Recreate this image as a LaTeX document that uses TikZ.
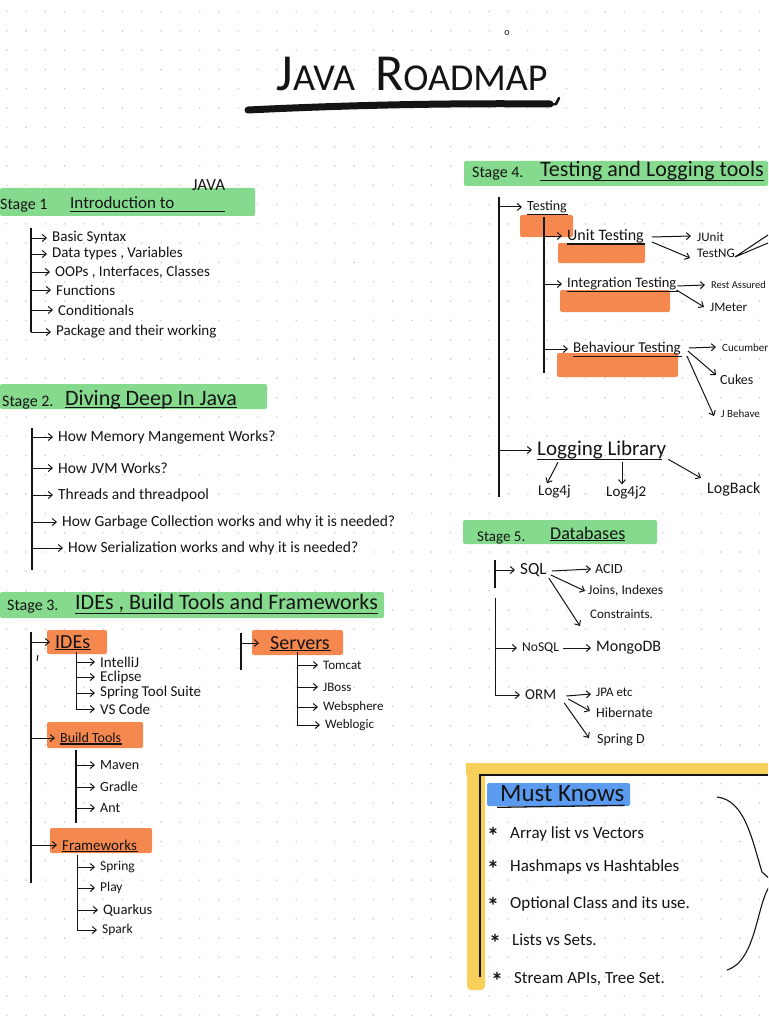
\documentclass[tikz,border=0pt]{standalone}
\usepackage{fontspec}
\setmainfont{Carlito}
\usetikzlibrary{arrows.meta,calc}
\definecolor{hlgreen}{HTML}{86DA8E}
\definecolor{hlorange}{HTML}{F5884F}
\definecolor{hlblue}{HTML}{5B9BF0}
\definecolor{hlyellow}{HTML}{F6D05A}
\definecolor{gridc}{HTML}{D0D0D0}
\definecolor{ink}{HTML}{141414}
\newcommand\fs[1]{\fontsize{#1}{#1}\selectfont}
\newcommand\mkstar{\raisebox{-6pt}{\fs{24}\bfseries *}\hspace{11pt}}
\tikzset{
  txt/.style={anchor=west, inner sep=0pt, text=ink, font=\fs{13}},
  arr/.style={draw=ink, line width=1pt, -{Straight Barb[length=4pt,width=7pt]}},
  toit/.style={arr, shorten >=5pt},
  spine/.style={draw=ink, line width=1.2pt},
  ul/.style={draw=ink, line width=1.3pt},
  hlg/.style={fill=hlgreen, draw=none, rounded corners=2pt},
  hlo/.style={fill=hlorange, draw=none, rounded corners=2pt},
}
\begin{document}
\begin{tikzpicture}[x=1pt,y=-1pt]
\path[use as bounding box, clip] (0,0) rectangle (768,1024);
\fill[white] (0,0) rectangle (768,1024);
\foreach \i in {0,...,39}{\foreach \j in {0,...,52}{\fill[gridc] ({6.7+19.3*\i},{11.6+19.3*\j}) circle (0.9);}}

% ---------------- Title
\node[inner sep=0pt, text=ink] (title) at (412,74) {\fs{52}J\fs{38}AVA\hspace{20pt}\fs{52}R\fs{38}OADMAP};
\draw[ink, line width=7pt, line cap=round] (248,110) .. controls (350,105) and (450,103) .. (550,104);
\draw[ink, line width=2.5pt, line cap=round] (548,105) -- (556,104) -- (559,98);
\node[inner sep=0pt, text=ink, font=\fs{10}] (omark) at (507,33) {o};

% ---------------- highlights
\path[hlg] (0,188) rectangle (255,216);
\path[hlg] (0,384) rectangle (267,409);
\path[hlg] (0,592) rectangle (384,618);
\path[hlg] (464,161) rectangle (768,186);
\path[hlg] (463,520) rectangle (657,544);
\path[hlo] (47,630) rectangle (107,654);
\path[hlo] (47,722) rectangle (143,748);
\path[hlo] (50,828) rectangle (152,853);
\path[hlo] (252,630) rectangle (343,655);
\path[hlo] (520,215) rectangle (573,237);
\path[hlo] (558,243) rectangle (645,263);
\path[hlo] (560,290) rectangle (670,312);
\path[hlo] (557,353) rectangle (678,377);
\path[fill=hlblue, rounded corners=2pt] (487,783) rectangle (630,806);
\path[fill=hlyellow] (466,763) rectangle (768,775);
\path[fill=hlyellow, rounded corners=4pt] (467,763) rectangle (485,990);
\draw[ink, line width=1.4pt] (480,977) -- (480,775) -- (768,775);

% ---------------- Stage 1
\node[txt, font=\fs{16}] (st1) at (0,206) {Stage 1};
\node[txt, font=\fs{17}] (h1) at (70,203) {Introduction to};
\node[txt, font=\fs{17}] (java1) at (192,185) {JAVA};
\draw[ul] ($(h1.south west)+(0,2)$) -- ($(h1.south west -| java1.east)+(0,2)$);
\begin{scope}[every node/.style={txt, font=\fs{15}}]
\node (s1a) at (52,238) {Basic Syntax};
\node (s1b) at (52,254) {Data types , Variables};
\node (s1c) at (55,272) {OOPs , Interfaces, Classes};
\node (s1d) at (56,290) {Functions};
\node (s1e) at (58,310) {Conditionals};
\node (s1f) at (56,332) {Package and their working};
\end{scope}
\coordinate (sp1) at (31,228);
\draw[spine] (sp1) -- (sp1 |- s1f);
\foreach \n in {s1a,s1b,s1c,s1d,s1e}{\draw[toit] (sp1 |- \n) -- (\n.west);}
\draw[toit] (sp1 |- s1f) -- (s1f.west);

% ---------------- Stage 2
\node[txt, font=\fs{16}] (st2) at (2,403) {Stage 2.};
\node[txt, font=\fs{22}] (h2) at (65,400) {Diving Deep In Java};
\draw[ul] ($(h2.south west)+(0,-2)$) -- ($(h2.south east)+(0,-2)$);
\begin{scope}[every node/.style={txt, font=\fs{15.5}}]
\node (s2a) at (58,437) {How Memory Mangement Works?};
\node (s2b) at (58,468) {How JVM Works?};
\node (s2c) at (58,495) {Threads and threadpool};
\node (s2d) at (62,522) {How Garbage Collection works and why it is needed?};
\node (s2e) at (68,548) {How Serialization works and why it is needed?};
\end{scope}
\coordinate (sp2) at (32,428);
\draw[spine] (sp2) -- (32,570);
\foreach \n in {s2a,s2b,s2c,s2d,s2e}{\draw[toit] (sp2 |- \n) -- (\n.west);}

% ---------------- Stage 3
\node[txt, font=\fs{16}] (st3) at (7,607) {Stage 3.};
\node[txt, font=\fs{22}] (h3) at (75,603) {IDEs , Build Tools and Frameworks};
\draw[ul] ($(h3.south west)+(0,1)$) -- ($(h3.south east)+(0,1)$);
\node[txt, font=\fs{20}] (ides) at (55,642) {IDEs};
\node[txt, font=\fs{14}] (build) at (60,738) {Build Tools};
\node[txt, font=\fs{15}] (fw) at (62,845) {Frameworks};
\node[txt, font=\fs{20}] (servers) at (270,643) {Servers};
\foreach \n in {ides,build,fw,servers}{\draw[ul] ($(\n.south west)+(0,1)$) -- ($(\n.south east)+(1,1)$);}
\coordinate (sp3) at (31,632);
\draw[spine] (sp3) -- (31,883);
\foreach \n in {ides,build,fw}{\draw[toit] (sp3 |- \n) -- (\n.west);}
\draw[ink, line width=1pt] (38,655) -- (37,661);
% IDEs
\begin{scope}[every node/.style={txt, font=\fs{15}}]
\node (i1) at (100,662) {IntelliJ};
\node (i2) at (100,677) {Eclipse};
\node (i3) at (100,693) {Spring Tool Suite};
\node (i4) at (100,709) {VS Code};
\end{scope}
\coordinate (sp3a) at (76,652);
\foreach \n in {i1,i2,i3}{\draw[toit] (sp3a |- \n) -- (\n.west);}
\draw[toit] (sp3a) |- (i4.west);
% Build tools
\node[txt, font=\fs{14}] (b1) at (100,765) {Maven};
\node[txt, font=\fs{14}] (b2) at (100,787) {Gradle};
\node[txt, font=\fs{14}] (b3) at (100,808) {Ant};
\coordinate (sp3b) at (76,750);
\foreach \n in {b1,b2,b3}{\draw[toit] (sp3b |- \n) -- (\n.west);}
\draw[spine] (sp3b) -- (76,823);
% Frameworks
\node[txt, font=\fs{13.5}] (f1) at (100,867) {Spring};
\node[txt, font=\fs{13.5}] (f2) at (100,888) {Play};
\node[txt, font=\fs{14.5}] (f3) at (103,910) {Quarkus};
\node[txt, font=\fs{13.5}] (f4) at (102,930) {Spark};
\coordinate (sp3c) at (77,855);
\foreach \n in {f1,f2,f3}{\draw[toit] (sp3c |- \n) -- (\n.west);}
\draw[toit] (sp3c) |- (f4.west);
% Servers
\coordinate (sp3s) at (241,633);
\draw[spine] (sp3s) -- (241,670);
\draw[arr, shorten >=11pt] (sp3s |- servers) -- (servers.west);
\node[txt, font=\fs{13}] (v1) at (323,665) {Tomcat};
\node[txt, font=\fs{13}] (v2) at (323,687) {JBoss};
\node[txt, font=\fs{13}] (v3) at (323,707) {Websphere};
\node[txt, font=\fs{13}] (v4) at (325,725) {Weblogic};
\coordinate (sp3d) at (297,652);
\foreach \n in {v1,v2,v3}{\draw[toit] (sp3d |- \n) -- (\n.west);}
\draw[toit] (sp3d) |- (v4.west);

% ---------------- Stage 4
\node[txt, font=\fs{16}] (st4) at (472,174) {Stage 4.};
\node[txt, font=\fs{22}] (h4) at (540,171) {Testing and Logging tools};
\draw[ul] ($(h4.south west)+(0,0)$) -- ($(h4.south east)+(0,0)$);
\node[txt, font=\fs{14}] (testing) at (527,207) {Testing};
\node[txt, font=\fs{16}] (unit) at (567,236) {Unit Testing};
\node[txt, font=\fs{14.5}] (integ) at (567,284) {Integration Testing};
\node[txt, font=\fs{15}] (behav) at (573,349) {Behaviour Testing};
\foreach \n in {testing,unit,integ,behav}{\draw[ul] ($(\n.south west)+(0,1)$) -- ($(\n.south east)+(1,1)$);}
\node[txt, font=\fs{21}] (logging) at (537,450) {Logging Library};
\draw[ul] ($(logging.south west)+(0,0)$) -- ($(logging.south east)+(-4,0)$);
\coordinate (sp4) at (499,197);
\draw[spine] (sp4) -- (499,497);
\draw[toit] (sp4 |- testing) -- (testing.west);
\draw[toit] (sp4 |- logging) -- (logging.west);
\coordinate (sp4a) at (544,217);
\draw[spine] (sp4a) -- (544,373);
\foreach \n in {unit,integ,behav}{\draw[toit] (sp4a |- \n) -- (\n.west);}
\node[txt] (junit) at (697,237) {JUnit};
\node[txt] (testng) at (697,253) {TestNG};
\node[txt, font=\fs{10.5}] (rest) at (711,285) {Rest Assured};
\node[txt] (jmeter) at (710,307) {JMeter};
\node[txt, font=\fs{11}] (cucumber) at (722,348) {Cucumber};
\node[txt, font=\fs{14}] (cukes) at (720,380) {Cukes};
\node[txt, font=\fs{11}] (jbehave) at (721,414) {J Behave};
\draw[arr] ($(unit.east)+(8,1)$) -- ($(junit.west)+(-6,-1)$);
\draw[arr] ($(unit.east)+(8,6)$) -- ($(testng.west)+(-7,5)$);
\draw[ink, line width=1pt] ($(testng.east)+(0,4)$) -- (768,235) ($(testng.east)+(0,4)$) -- (768,243);
\draw[arr] ($(integ.east)+(1,2)$) -- ($(rest.west)+(-6,0)$);
\draw[arr] ($(integ.east)+(0,6)$) -- ($(jmeter.west)+(-6,0)$);
\draw[arr] ($(behav.east)+(8,-1)$) -- ($(cucumber.west)+(-6,-1)$);
\draw[arr] ($(behav.east)+(7,2)$) -- ($(cukes.west)+(-4,-5)$);
\draw[arr] ($(behav.east)+(6,7)$) -- ($(jbehave.west)+(-7,2)$);
\node[txt, font=\fs{15}] (log4j) at (538,492) {Log4j};
\node[txt, font=\fs{15}] (log4j2) at (606,493) {Log4j2};
\node[txt, font=\fs{16}] (logback) at (707,489) {LogBack};
\draw[arr] ($(logging.south west)+(21,3)$) -- ($(log4j.north west)+(9,-2)$);
\draw[arr] ($(logging.south west)+(85,3)$) -- ($(log4j2.north west)+(16,-2)$);
\draw[arr] ($(logging.south east)+(2,0)$) -- ($(logback.west)+(-6,-11)$);

% ---------------- Stage 5
\node[txt, font=\fs{15}] (st5) at (477,538) {Stage 5.};
\node[txt, font=\fs{18}] (h5) at (550,533) {Databases};
\draw[ul] ($(h5.south west)+(0,1)$) -- ($(h5.south east)+(0,1)$);
\node[txt, font=\fs{17}] (sql) at (520,570) {SQL};
\node[txt, font=\fs{14}] (acid) at (595,569) {ACID};
\node[txt, font=\fs{13.5}] (joins) at (588,591) {Joins, Indexes};
\node[txt, font=\fs{13}] (constr) at (590,614) {Constraints.};
\node[txt, font=\fs{13.5}] (nosql) at (522,648) {NoSQL};
\node[txt, font=\fs{16}] (mongo) at (596,648) {MongoDB};
\node[txt, font=\fs{15}] (orm) at (525,695) {ORM};
\node[txt, font=\fs{13}] (jpa) at (596,692) {JPA etc};
\node[txt, font=\fs{14}] (hib) at (596,713) {Hibernate};
\node[txt, font=\fs{14}] (springd) at (597,740) {Spring D};
\coordinate (sp5) at (495,560);
\draw[spine] (sp5) -- (495,588);
\draw[toit] (sp5 |- sql) -- (sql.west);
\coordinate (sp5b) at (495,598);
\draw[toit] (sp5b) |- (orm.west);
\draw[toit] (sp5b |- nosql) -- (nosql.west);
\draw[arr] ($(sql.east)+(5,1)$) -- ($(acid.west)+(-4,0)$);
\draw[arr] ($(sql.east)+(4,5)$) -- ($(joins.west)+(-3,0)$);
\draw[arr] ($(sql.east)+(2,8)$) -- ($(constr.west)+(-10,12)$);
\draw[arr] ($(nosql.east)+(4,0)$) -- ($(mongo.west)+(-5,0)$);
\draw[arr] ($(orm.east)+(10,1)$) -- ($(jpa.west)+(-5,2)$);
\draw[arr] ($(orm.east)+(12,4)$) -- ($(hib.west)+(-6,-2)$);
\draw[arr] ($(orm.east)+(8,8)$) -- ($(springd.west)+(-8,-2)$);

% ---------------- Must Knows
\node[txt, font=\fs{25}] (mk) at (500,794) {Must Knows};
\draw[ul] ($(mk.south west)+(-3,5)$) -- ($(mk.south east)+(0,3)$);
\begin{scope}[every node/.style={txt, font=\fs{17}}]
\node (m1) at (487,836) {\mkstar Array list vs Vectors};
\node (m2) at (487,869) {\mkstar Hashmaps vs Hashtables};
\node (m3) at (487,906) {\mkstar Optional Class and its use.};
\node (m4) at (489,943) {\mkstar Lists vs Sets.};
\node (m5) at (491,981) {\mkstar Stream APIs, Tree Set.};
\end{scope}
\draw[ink, line width=1.1pt] (717,797) .. controls (745,800) and (752,840) .. (762,872) -- (772,881);
\draw[ink, line width=1.1pt] (772,883) .. controls (756,900) and (758,960) .. (727,970);
\end{tikzpicture}
\end{document}
